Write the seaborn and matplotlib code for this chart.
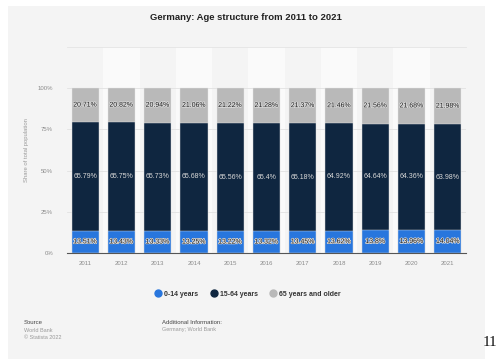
import matplotlib
matplotlib.use("Agg")
import matplotlib.pyplot as plt
import matplotlib.patheffects as pe
from matplotlib.patches import Rectangle
from matplotlib.lines import Line2D
import numpy as np
import pandas as pd
import seaborn as sns

years = ["2011", "2012", "2013", "2014", "2015", "2016", "2017", "2018", "2019", "2020", "2021"]
age_0_14 = [13.51, 13.43, 13.33, 13.25, 13.22, 13.32, 13.45, 13.62, 13.8, 13.96, 14.04]
age_15_64 = [65.79, 65.75, 65.73, 65.68, 65.56, 65.4, 65.18, 64.92, 64.64, 64.36, 63.98]
age_65_plus = [20.71, 20.82, 20.94, 21.06, 21.22, 21.28, 21.37, 21.46, 21.56, 21.68, 21.98]
labels_0_14 = ["13.51%", "13.43%", "13.33%", "13.25%", "13.22%", "13.32%", "13.45%", "13.62%", "13.8%", "13.96%", "14.04%"]
labels_15_64 = ["65.79%", "65.75%", "65.73%", "65.68%", "65.56%", "65.4%", "65.18%", "64.92%", "64.64%", "64.36%", "63.98%"]
labels_65_plus = ["20.71%", "20.82%", "20.94%", "21.06%", "21.22%", "21.28%", "21.37%", "21.46%", "21.56%", "21.68%", "21.98%"]
series_names = ["0-14 years", "15-64 years", "65 years and older"]
colors = ["#2876dd", "#0f2640", "#b9b9b9"]

plt.rcParams["font.family"] = ["Liberation Sans", "DejaVu Sans"]

df = pd.DataFrame({"year": years, "a": age_0_14, "b": age_15_64, "c": age_65_plus})
df["cum1"] = df["a"]
df["cum2"] = df["a"] + df["b"]
df["cum3"] = df["a"] + df["b"] + df["c"]

fig = plt.figure(figsize=(4.99, 3.60), dpi=100)
fig.patch.set_facecolor("white")
fig.patches.append(Rectangle((8 / 499, 1 - 359 / 360), (485 - 8) / 499, (359 - 6) / 360,
                             transform=fig.transFigure, facecolor="#f4f4f4", edgecolor="none", zorder=-10))

ax = fig.add_axes([67 / 499, 1 - 253 / 360, (466 - 67) / 499, (253 - 47) / 360])
ax.set_facecolor("none")

for i in range(len(years)):
    if i % 2 == 1:
        ax.axvspan(i - 0.5, i + 0.5, color="#fafafa", zorder=0, lw=0)

for col, c in zip(["cum3", "cum2", "cum1"], [colors[2], colors[1], colors[0]]):
    sns.barplot(data=df, x="year", y=col, color=c, saturation=1, width=0.75,
                errorbar=None, ax=ax, edgecolor="#e6e6e6", linewidth=0.3, zorder=3)

ax.set_xlim(-0.5, 10.5)
ax.set_ylim(0, 124.85)
ax.set_yticks([0, 25, 50, 75, 100])
ax.set_yticklabels(["0%", "25%", "50%", "75%", "100%"])
ax.grid(axis="y", color="#e2e2e2", linewidth=0.6, zorder=1)
ax.set_axisbelow(True)
ax.tick_params(axis="both", length=0, labelsize=4.3, labelcolor="#8a8a8a")
ax.tick_params(axis="y", pad=10)
ax.tick_params(axis="x", pad=6)
for s in ["left", "right"]:
    ax.spines[s].set_visible(False)
ax.spines["top"].set_color("#e4e4e4")
ax.spines["top"].set_linewidth(0.6)
ax.spines["bottom"].set_color("#555555")
ax.spines["bottom"].set_linewidth(0.8)
ax.spines["bottom"].set_zorder(5)
ax.set_xlabel("")
ax.set_ylabel("Share of total population", fontsize=4.2, color="#9a9a9a", labelpad=6)

halo = [pe.withStroke(linewidth=1.0, foreground="#dcdcdc")]
for i in range(len(years)):
    ax.text(i, age_0_14[i] / 2, labels_0_14[i], ha="center", va="center", fontsize=5,
            color="#1a1a1a", path_effects=halo, zorder=6)
    ax.text(i, age_0_14[i] + age_15_64[i] / 2, labels_15_64[i], ha="center", va="center",
            fontsize=5, color="#d8d8d8", zorder=6)
    ax.text(i, age_0_14[i] + age_15_64[i] + age_65_plus[i] / 2, labels_65_plus[i], ha="center",
            va="center", fontsize=5, color="#1a1a1a", path_effects=halo, zorder=6)

fig.text(0.492, 1 - 17 / 360, "Germany: Age structure from 2011 to 2021", ha="center", va="center",
         fontsize=6.8, fontweight="bold", color="#222222")

handles = [Line2D([0], [0], marker="o", linestyle="none", markersize=5, markerfacecolor=c,
                  markeredgecolor=c) for c in colors]
leg = fig.legend(handles, series_names, loc="center", bbox_to_anchor=(248 / 499, 1 - 294 / 360),
                 ncol=3, frameon=False, prop={"size": 5, "weight": "bold"}, handletextpad=0.5,
                 columnspacing=1.8, handlelength=0.8)
for t in leg.get_texts():
    t.set_color("#333333")

fig.text(24 / 499, 1 - 323 / 360, "Source", fontsize=4.3, color="#444444", va="center", ha="left")
fig.text(24 / 499, 1 - 330 / 360, "World Bank", fontsize=4.0, color="#9a9a9a", va="center", ha="left")
fig.text(24 / 499, 1 - 337.5 / 360, "\u00a9 Statista 2022", fontsize=4.0, color="#9a9a9a", va="center", ha="left")
fig.text(162 / 499, 1 - 323 / 360, "Additional Information:", fontsize=4.3, color="#444444", va="center", ha="left")
fig.text(162 / 499, 1 - 330 / 360, "Germany; World Bank", fontsize=4.0, color="#9a9a9a", va="center", ha="left")

fig.text(497 / 499, 1 - 343 / 360, "11", fontsize=11, family="Liberation Serif", color="#111111",
         va="center", ha="right")

fig.savefig("out.png", dpi=100)
